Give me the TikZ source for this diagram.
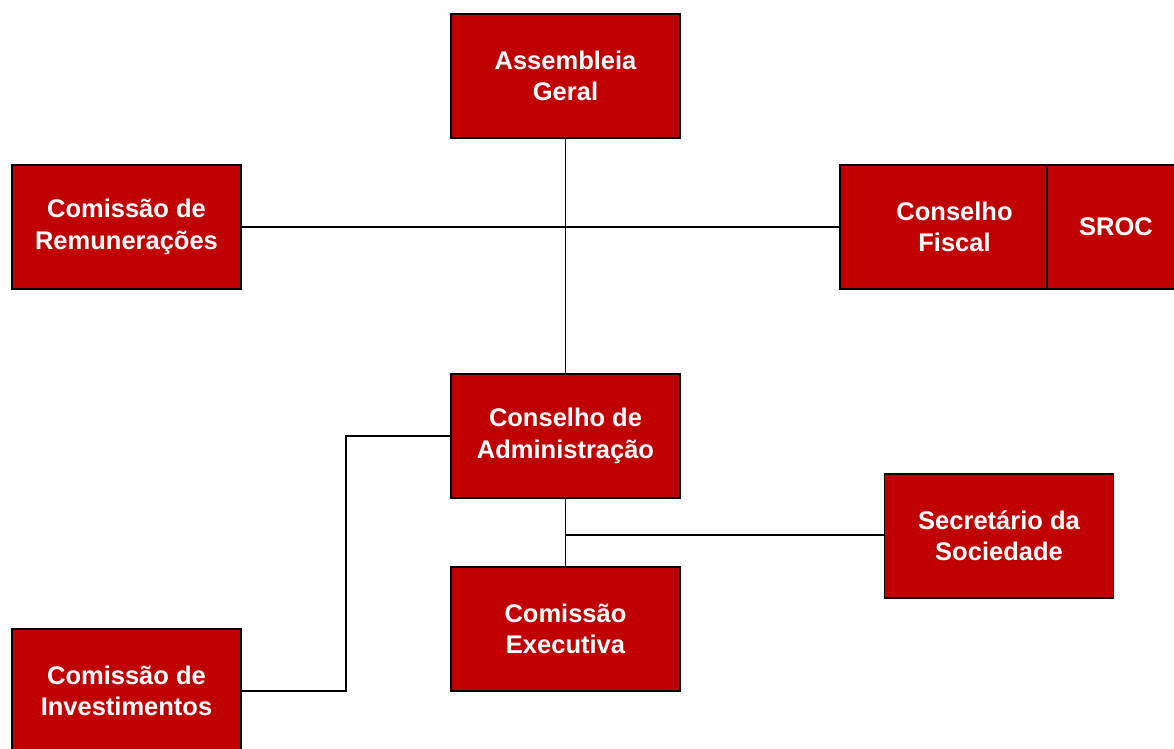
\documentclass[tikz,border=0pt]{standalone}
\usepackage{fontspec}
\setmainfont{Liberation Sans}
\definecolor{boxred}{HTML}{C00000}
\begin{document}
\begin{tikzpicture}[x=1pt,y=-1pt,
  orgbox/.style={draw=black,line width=1.5pt,fill=boxred,text=white,
    minimum width=229pt,minimum height=124pt,inner sep=0pt,align=center,
    font=\fontsize{25.5}{31.5}\selectfont\bfseries},
  link/.style={draw=black,line width=1.7pt}]
\useasboundingbox (0,0) rectangle (1174,748);
\node[orgbox] (ag) at (565.5,76) {Assembleia\\Geral};
\node[orgbox] (cr) at (126.5,227) {Comissão de\\Remunerações};
\node[orgbox,minimum width=207pt] (cf) at (943.5,227) {\hspace*{22pt}Conselho\\\hspace*{22pt}Fiscal};
\node[orgbox,minimum width=138pt] (sroc) at (1116,227) {SROC};
\node[orgbox] (ca) at (565.5,436) {Conselho de\\Administração};
\node[orgbox] (ss) at (999,536) {Secretário da\\Sociedade};
\node[orgbox] (ce) at (565.5,629) {Comissão\\Executiva};
\node[orgbox] (ci) at (126.5,691) {Comissão de\\Investimentos};
\coordinate (j2) at (565.5,535);
\coordinate (k1) at (346,436);
\coordinate (k2) at (346,691);
\draw[link] (ag.south) -- (ca.north);
\draw[link] (cr.east) -- (cf.west);
\draw[link] (ca.south) -- (ce.north);
\draw[link] (j2) -- (ss.west |- j2);
\draw[link] (ca.west |- k1) -- (k1) -- (k2) -- (ci.east |- k2);
\end{tikzpicture}
\end{document}
